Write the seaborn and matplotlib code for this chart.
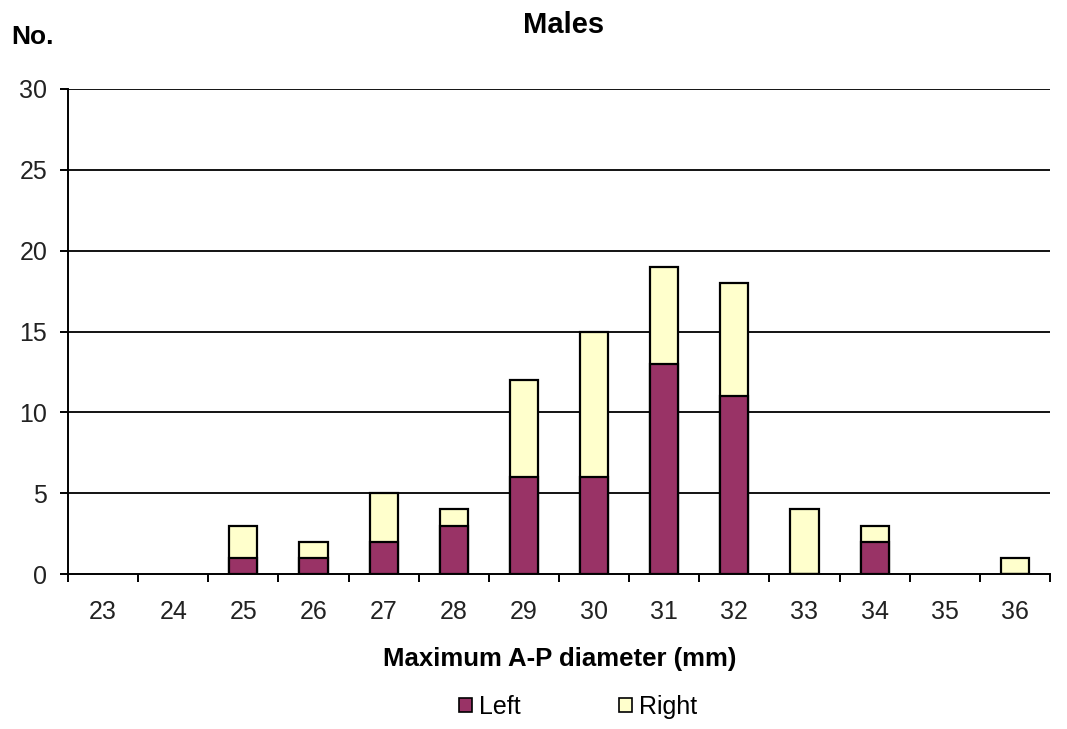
import matplotlib
matplotlib.use("Agg")
import matplotlib.pyplot as plt
import seaborn as sns
import numpy as np
import pandas as pd
from matplotlib.patches import Patch

categories = ["23", "24", "25", "26", "27", "28", "29", "30", "31", "32", "33", "34", "35", "36"]
left_vals = [0, 0, 1, 1, 2, 3, 6, 6, 13, 11, 0, 2, 0, 0]
right_vals = [0, 0, 2, 1, 3, 1, 6, 9, 6, 7, 4, 1, 0, 1]

LEFT_C = "#993366"
RIGHT_C = "#FFFFCC"

sns.set_theme(style="white")
plt.rcParams['font.family'] = ['Liberation Sans', 'DejaVu Sans']
plt.rcParams['text.color'] = 'black'
plt.rcParams['xtick.color'] = 'black'
plt.rcParams['ytick.color'] = 'black'
plt.rcParams['axes.labelcolor'] = 'black'

df = pd.DataFrame({"cat": categories, "left": left_vals, "right": right_vals})
df["total"] = df["left"] + df["right"]

fig = plt.figure(figsize=(10.67, 7.29), dpi=100)
ax = fig.add_axes([68/1067, 1-574/729, (1050-68)/1067, (574-89)/729])

for y in range(5, 31, 5):
    ax.axhline(y, color="black", lw=1.3, zorder=0)

sns.barplot(data=df, x="cat", y="total", order=categories, color=RIGHT_C, saturation=1,
            width=0.4, edgecolor="black", linewidth=1.6, ax=ax, zorder=2)
sns.barplot(data=df, x="cat", y="left", order=categories, color=LEFT_C, saturation=1,
            width=0.4, edgecolor="black", linewidth=1.6, ax=ax, zorder=3)

n = len(categories)
totals = df["total"].tolist()
for i, p in enumerate(ax.patches[:2 * n]):
    if totals[i % n] == 0:
        p.set_visible(False)

ax.set_xlim(-0.5, n - 0.5)
ax.set_ylim(0, 30)
ax.set_yticks(range(0, 31, 5))
ax.set_xticks(range(n))
ax.set_xticklabels(categories)
ax.set_xticks(np.arange(-0.5, n, 1.0), minor=True)
ax.tick_params(axis="x", which="major", length=0, pad=19, labelsize=18, labelcolor="#222222")
ax.tick_params(axis="x", which="minor", length=6, width=1.4, direction="out", color="black", bottom=True)
ax.tick_params(axis="y", which="major", length=6, width=1.4, direction="out", color="black", left=True,
               labelsize=18, pad=9, labelcolor="#222222")

for s in ["top", "right"]:
    ax.spines[s].set_visible(False)
for s in ["left", "bottom"]:
    ax.spines[s].set_color("black")
    ax.spines[s].set_linewidth(1.4)

ax.set_xlabel("")
ax.set_ylabel("")

fig.text(564/1067, 1-25/729, "Males", ha="center", va="center", fontsize=21, fontweight="bold")
fig.text(11/1067, 1-37/729, "No.", ha="left", va="center", fontsize=19, fontweight="bold")
fig.text(560/1067, 1-659/729, "Maximum A-P diameter (mm)", ha="center", va="center", fontsize=18.5, fontweight="bold")

handles = [Patch(facecolor=LEFT_C, edgecolor="black", linewidth=1.2, label="Left"),
           Patch(facecolor=RIGHT_C, edgecolor="black", linewidth=1.2, label="Right")]
fig.legend(handles=handles, loc="center", bbox_to_anchor=(578/1067, 1-707/729), ncol=2, frameon=False,
           fontsize=18, handlelength=0.52, handleheight=0.52, handletextpad=0.3, columnspacing=3.9,
           borderpad=0, borderaxespad=0)

fig.savefig("out.png", dpi=100)
